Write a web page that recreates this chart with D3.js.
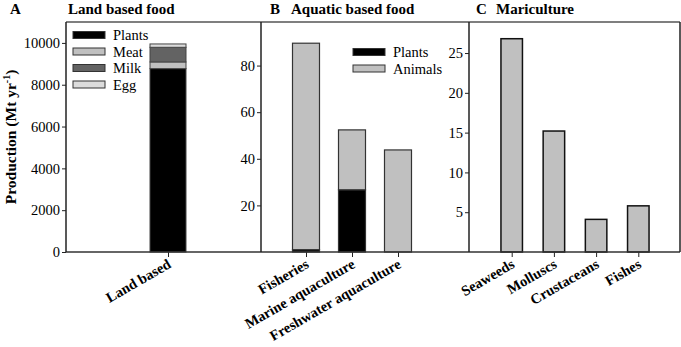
<!doctype html>
<html lang="en">
<head>
  <meta charset="utf-8">
  <title>Food production</title>
  <script src="https://cdnjs.cloudflare.com/ajax/libs/d3/7.8.5/d3.min.js"></script>
  <style>
    body { margin: 0; background: #fff; }
    text { font-family: "Liberation Serif", "Times New Roman", serif; }
  </style>
</head>
<body>
<svg width="681" height="347" id="svg"></svg>
<script>
// panel A
var landCats = ["Land based"];
var landSeries = ["Plants", "Meat", "Milk", "Egg"];
var landValues = [8770, 320, 700, 160];
var landTicks = [0, 2000, 4000, 6000, 8000, 10000];

// panel B
var aquaCats = ["Fisheries", "Marine aquaculture", "Freshwater aquaculture"];
var aquaSeries = ["Plants", "Animals"];
var aquaPlants = [1, 26.7, 0];
var aquaAnimals = [88.6, 25.7, 43.8];
var aquaTicks = [20, 40, 60, 80];

// panel C
var mariCats = ["Seaweeds", "Molluscs", "Crustaceans", "Fishes"];
var mariValues = [26.8, 15.2, 4.1, 5.8];
var mariTicks = [5, 10, 15, 20, 25];

var svg = d3.select('#svg');
var top_ = 22, bottom = 252;
var landColors = {Plants: '#000', Meat: '#c0c0c0', Milk: '#636363', Egg: '#dcdcdc'};
var aquaColors = {Plants: '#000', Animals: '#c0c0c0'};

function yAxis(scale, x, ticks, minorStep) {
  var g = svg.append('g').attr('transform', 'translate(' + x + ',0)');
  var minor = d3.range(0, scale.domain()[1], minorStep);
  g.call(d3.axisLeft(scale).tickValues(minor).tickSize(3).tickFormat(''));
  g.call(d3.axisLeft(scale).tickValues(ticks).tickSize(4).tickFormat(d3.format('d')));
  g.select('.domain').remove();
  g.selectAll('line').attr('stroke', '#222');
  g.selectAll('text').attr('font-size', 14.5).attr('fill', '#000')
    .attr('font-family', 'Liberation Serif').attr('x', -6);
  return g;
}

function xAxis(scale, cats) {
  var g = svg.append('g').attr('transform', 'translate(0,' + bottom + ')');
  g.call(d3.axisBottom(scale).tickSize(5).tickFormat(''));
  g.select('.domain').remove();
  g.selectAll('line').attr('stroke', '#222');
  g.selectAll('.lbl').data(cats).enter().append('text')
    .attr('class', 'lbl')
    .attr('transform', function(d) { return 'translate(' + (scale(d) + 4) + ',' + 15 + ') rotate(-30)'; })
    .attr('text-anchor', 'end')
    .attr('fill', '#000')
    .attr('font-weight', 'bold')
    .attr('font-size', 14.5)
    .text(function(d) { return d; });
}

function title(letter, lx, name, nx) {
  svg.append('text').attr('x', lx).attr('y', 14).attr('font-family', 'Liberation Sans, Arial, sans-serif')
    .attr('font-weight', 'bold').attr('font-size', 15).text(letter);
  svg.append('text').attr('x', nx).attr('y', 14).attr('font-weight', 'bold')
    .attr('font-size', 15).text(name);
}

function legend(x, y0, names, colors) {
  names.forEach(function(n, i) {
    var y = y0 + i * 16.5;
    svg.append('rect').attr('x', x).attr('y', y - 3.5).attr('width', 32).attr('height', 7)
      .attr('fill', colors[n]).attr('stroke', '#333').attr('stroke-width', 1);
    svg.append('text').attr('x', x + 40).attr('y', y + 5).attr('font-size', 14.5).text(n);
  });
}

// ---------- A
var yA = d3.scaleLinear().domain([0, 11000]).range([bottom, top_]);
var xA = d3.scalePoint().domain(landCats).range([75, 261]).padding(0.5);
var stackA = d3.stack().keys(landSeries)([landSeries.reduce(function(o, k, i) { o[k] = landValues[i]; return o; }, {})]);
svg.selectAll('.barA').data(stackA).enter().append('rect')
  .attr('x', xA(landCats[0]) - 18).attr('width', 36)
  .attr('y', function(d) { return yA(d[0][1]); })
  .attr('height', function(d) { return yA(d[0][0]) - yA(d[0][1]); })
  .attr('fill', function(d) { return landColors[d.key]; })
  .attr('stroke', '#444').attr('stroke-width', 1);
yAxis(yA, 66, landTicks, 500);
xAxis(xA, landCats);
legend(73, 35, landSeries, landColors);
title('A', 10, 'Land based food', 68);

// ---------- B
var yB = d3.scaleLinear().domain([0, 98.7]).range([bottom, top_]);
var xB = d3.scalePoint().domain(aquaCats).range([260, 444]).padding(1);
var rowsB = aquaCats.map(function(c, i) { return {cat: c, Plants: aquaPlants[i], Animals: aquaAnimals[i]}; });
var stackB = d3.stack().keys(aquaSeries)(rowsB);
stackB.forEach(function(s) {
  svg.selectAll('.b' + s.key).data(s).enter().append('rect')
    .attr('x', function(d) { return xB(d.data.cat) - 13.5; }).attr('width', 27)
    .attr('y', function(d) { return yB(d[1]); })
    .attr('height', function(d) { return yB(d[0]) - yB(d[1]); })
    .attr('fill', aquaColors[s.key])
    .attr('stroke', '#333').attr('stroke-width', 1.2);
});
yAxis(yB, 261, aquaTicks, 5);
xAxis(xB, aquaCats);
legend(353, 52, aquaSeries, aquaColors);
title('B', 270, 'Aquatic based food', 291);

// ---------- C
var yC = d3.scaleLinear().domain([0, 28.9]).range([bottom, top_]);
var xC = d3.scalePoint().domain(mariCats).range([469.5, 680.5]).padding(1);
svg.selectAll('.barC').data(mariValues).enter().append('rect')
  .attr('x', function(d, i) { return xC(mariCats[i]) - 10.75; }).attr('width', 21.5)
  .attr('y', function(d) { return yC(d); })
  .attr('height', function(d) { return yC(0) - yC(d); })
  .attr('fill', '#c0c0c0')
  .attr('stroke', '#111').attr('stroke-width', 1.5);
yAxis(yC, 469, mariTicks, 1);
xAxis(xC, mariCats);
title('C', 476, 'Mariculture', 496);

// frames
svg.append('line').attr('x1', 66).attr('x2', 680).attr('y1', top_).attr('y2', top_).attr('stroke', '#555').attr('stroke-width', 1.3);
svg.append('line').attr('x1', 66).attr('x2', 680).attr('y1', bottom).attr('y2', bottom).attr('stroke', '#333').attr('stroke-width', 1.5);
[66, 261, 469, 680].forEach(function(x) {
  svg.append('line').attr('x1', x).attr('x2', x).attr('y1', top_).attr('y2', bottom).attr('stroke', '#222').attr('stroke-width', 1.5);
});

// y label
svg.append('text')
  .attr('transform', 'translate(16,137) rotate(-90)')
  .attr('text-anchor', 'middle').attr('font-weight', 'bold').attr('font-size', 15.5)
  .text('Production (Mt yr').append('tspan').attr('font-size', 10).attr('dy', -6).text('-1')
  .select(function() { return this.parentNode; })
  .append('tspan').attr('dy', 6).text(')');
</script>
</body>
</html>
